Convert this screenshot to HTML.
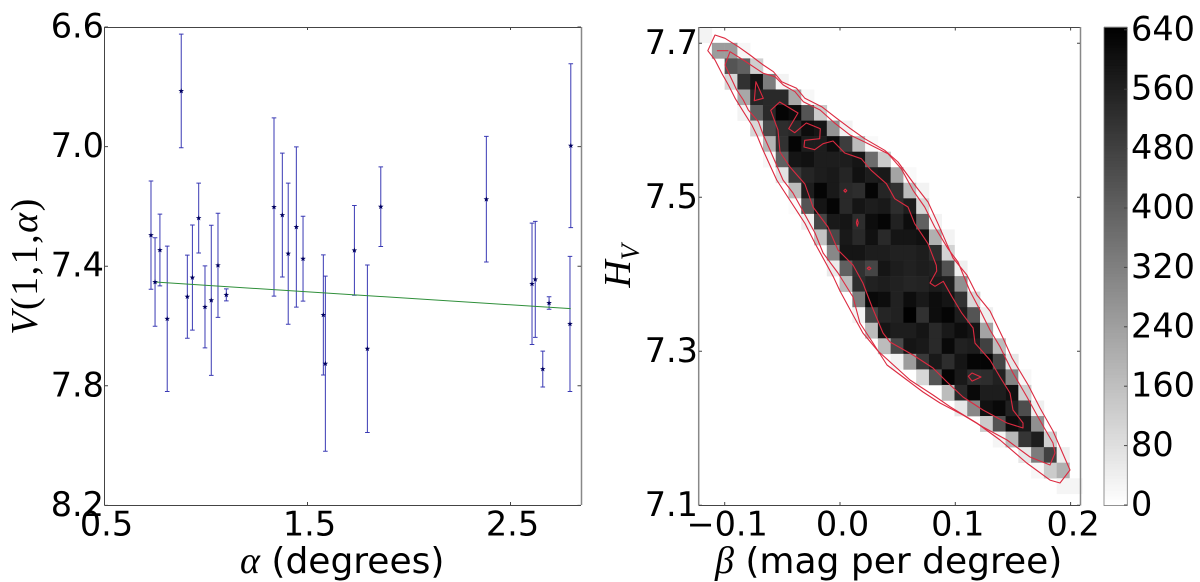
<!DOCTYPE html>
<html>
<head>
<meta charset="utf-8">
<title>Phase curve and parameter density</title>
<style>
html,body{margin:0;padding:0;background:#fff;width:1200px;height:582px;overflow:hidden}
svg{display:block}
text{font-family:"DejaVu Sans","Liberation Sans",sans-serif;fill:#000}
.serif{font-family:"Liberation Serif",serif}
</style>
</head>
<body>
<svg id="figure" width="1200" height="582" viewBox="0 0 1200 582" xmlns="http://www.w3.org/2000/svg">
  <g id="left"></g>
  <g id="right"></g>
  <g id="cbar"></g>
  <text x="240" y="573" font-size="36"><tspan class="serif" font-style="italic" font-size="38">α</tspan> (degrees)</text>
  <text class="serif" transform="translate(37,266) rotate(-90)" text-anchor="middle" font-size="38" letter-spacing="1.5"><tspan font-style="italic">V</tspan>(1,1,<tspan font-style="italic">α</tspan>)</text>
  <text x="715" y="573" font-size="36"><tspan class="serif" font-style="italic" font-size="38">β</tspan> (mag per degree)</text>
  <text class="serif" transform="translate(630,266) rotate(-90)" text-anchor="middle" font-size="38" font-style="italic">H<tspan font-size="26" dy="9">V</tspan></text>
</svg>
<script>
// Left chart data
const alphaDeg = [0.729,0.749,0.773,0.809,0.878,0.908,0.933,0.964,0.995,1.026,1.059,1.100,1.335,1.376,1.405,1.445,1.478,1.578,1.588,1.731,1.795,1.861,2.381,2.606,2.622,2.659,2.690,2.793,2.797];
const reducedMag = [7.296,7.453,7.346,7.576,6.814,7.502,7.438,7.239,7.536,7.514,7.397,7.496,7.202,7.229,7.358,7.269,7.375,7.563,7.726,7.347,7.676,7.201,7.176,7.459,7.444,7.744,7.523,7.593,6.997];
const magError = [0.181,0.148,0.120,0.243,0.190,0.139,0.176,0.117,0.137,0.251,0.174,0.020,0.298,0.207,0.236,0.268,0.142,0.201,0.293,0.150,0.280,0.133,0.210,0.203,0.194,0.060,0.021,0.226,0.274];
const fitAlpha = [0.749,2.797];
const fitMag = [7.453,7.542];
const leftXTicks = [0.5,1.5,2.5];
const leftYTicks = [6.6,7.0,7.4,7.8,8.2];

// Right chart data
const rightXTicks = [-0.1,0.0,0.1,0.2];
const rightYTicks = [7.7,7.5,7.3,7.1];
const colorbarTicks = [0,80,160,240,320,400,480,560,640];
const heatStartCol = [0,1,2,2,3,3,4,5,5,6,7,7,8,9,10,10,11,12,12,13,14,15,17,19,20,22,23,25,26,28];
const heatCounts = [
[30],
[250,250,20],
[430,400,120],
[100,520,590,330,30],
[220,550,540,540,220,20],
[30,400,540,630,610,430,130],
[100,460,530,540,610,590,270,30],
[190,520,630,570,570,610,490,170,15],
[20,400,590,600,570,570,570,590,370,130],
[70,500,550,570,580,550,600,570,580,230,15],
[170,570,630,580,540,530,630,550,520,170,30],
[10,430,590,630,540,590,570,580,530,570,100],
[40,470,580,590,530,610,630,560,610,400,30],
[150,460,580,540,600,540,590,590,600,200,30],
[300,590,590,570,570,560,560,570,530,110],
[50,400,520,470,590,570,560,570,560,440,40],
[170,530,560,570,560,550,555,575,565,280],
[330,620,610,560,610,580,610,590,520,100],
[30,470,550,560,640,520,610,630,570,430,40],
[170,590,570,570,590,540,580,610,590,230],
[170,460,590,580,540,620,560,570,480,170],
[30,250,500,580,530,590,630,630,470,60],
[100,430,630,580,530,530,560,310,20],
[170,540,620,570,570,600,120],
[60,300,600,620,560,450,40],
[130,440,610,580,280],
[25,180,510,570,120],
[60,330,480,40],
[20,130,200],
[25,25]
];
const contourOuter = [[-.1084,7.7108],[-.0997,7.7065],[-.0882,7.6956],[-.0781,7.6848],[-.0665,7.6718],[-.0578,7.6631],[-.0506,7.6501],[-.0376,7.6416],[-.0304,7.6286],[-.0159,7.6177],[-.0029,7.6026],[.0087,7.5896],[.0214,7.5761],[.0388,7.5610],[.0503,7.5458],[.0662,7.5134],[.0763,7.4939],[.0850,7.4657],[.0980,7.4212],[.1101,7.3991],[.1188,7.3731],[.1301,7.3523],[.1414,7.3173],[.1492,7.2913],[.1631,7.2564],[.1735,7.2264],[.1847,7.1965],[.1995,7.1458],[.1908,7.1290],[.1821,7.1327],[.1619,7.1549],[.1388,7.1848],[.1186,7.2069],[.0954,7.2281],[.0807,7.2432],[.0607,7.2627],[.0330,7.3004],[.0199,7.3238],[.0113,7.3471],[0,7.3783],[-.0058,7.3969],[-.0217,7.4403],[-.0304,7.4662],[-.0549,7.5225],[-.0668,7.5614],[-.0722,7.5809],[-.0765,7.5939],[-.0838,7.6112],[-.0910,7.6286],[-.0968,7.6458],[-.1025,7.6610],[-.1084,7.6783],[-.1147,7.6904]];
const contourMiddle = [[-.0954,7.6891],[-.0839,7.6783],[-.0665,7.6610],[-.0564,7.6566],[-.0492,7.6458],[-.0390,7.6371],[-.0318,7.6242],[-.0173,7.6134],[-.0043,7.5961],[.0087,7.5809],[.0214,7.5718],[.0416,7.5566],[.0532,7.5371],[.0633,7.5091],[.0735,7.4874],[.0821,7.4614],[.0937,7.4332],[.1023,7.4160],[.1127,7.3783],[.1214,7.3536],[.1301,7.3277],[.1388,7.3060],[.1500,7.2718],[.1622,7.2406],[.1717,7.2147],[.1847,7.1809],[.1865,7.1679],[.1821,7.1523],[.1648,7.1627],[.1448,7.1848],[.1240,7.2017],[.1067,7.2173],[.0867,7.2329],[.0720,7.2471],[.0581,7.2627],[.0408,7.2822],[.0286,7.3108],[.0173,7.3368],[.0113,7.3705],[-.0017,7.4017],[-.0147,7.4277],[-.0217,7.4536],[-.0408,7.5056],[-.0494,7.5225],[-.0607,7.5614],[-.0665,7.5809],[-.0708,7.5982],[-.0795,7.6134],[-.0839,7.6264],[-.0896,7.6394],[-.0997,7.6718]];
const contourInner = [[-.0601,7.6130],[-.0523,7.6238],[-.0364,7.6095],[-.0445,7.5891],[-.0393,7.5839],[-.0292,7.5965],[-.0171,7.5891],[-.0176,7.5761],[-.0306,7.5740],[-.0312,7.5653],[-.0219,7.5618],[-.0147,7.5696],[-.0061,7.5731],[.0041,7.5575],[.0185,7.5501],[.0271,7.5351],[.0402,7.5177],[.0474,7.4982],[.0590,7.4874],[.0648,7.4657],[.0763,7.4397],[.0835,7.4117],[.0839,7.4043],[.0781,7.3887],[.0824,7.3844],[.0896,7.3909],[.0969,7.3714],[.1056,7.3496],[.1154,7.3303],[.1171,7.3106],[.1301,7.2887],[.1388,7.2666],[.1474,7.2458],[.1500,7.2238],[.1587,7.2069],[.1587,7.2004],[.1448,7.2069],[.1240,7.2238],[.1067,7.2406],[.0928,7.2601],[.0807,7.2783],[.0633,7.2952],[.0434,7.3121],[.0373,7.3238],[.0278,7.3575],[.0199,7.3887],[.0113,7.4121],[-.0017,7.4316],[-.0104,7.4614],[-.0234,7.4874],[-.0304,7.5173],[-.0434,7.5394],[-.0520,7.5588],[-.0538,7.5874]];
const contourDash = [[-.1068,7.6904],[-.0968,7.6904]];
const contourTriangle = [[-.0729,7.6501],[-.0665,7.6286],[-.0743,7.6255]];
const contourIslandA = [[.0033,7.5086],[.0046,7.5106],[.0059,7.5086],[.0046,7.5066]];
const contourIslandB = [[.0142,7.4670],[.0150,7.4715],[.0158,7.4670],[.0150,7.4625]];
const contourIslandC = [[.0236,7.4078],[.0252,7.4098],[.0268,7.4078],[.0252,7.4058]];
const contourIslandD = [[.1113,7.2675],[.1145,7.2718],[.1223,7.2666],[.1145,7.2613]];

const NS = 'http://www.w3.org/2000/svg';
function make(parent, tag, props) {
  const n = document.createElementNS(NS, tag);
  for (const k in props) n.setAttribute(k, props[k]);
  parent.appendChild(n);
  return n;
}

// Axis functions
const leftX = a => 104.5 + (a - 0.5) * 203;
const leftY = v => 27 + (v - 6.6) * 299;
const rightX = b => 840 + b * 1153;
const rightY = h => 197.3 + (7.5 - h) * 770;
const cbarY = c => 505 - c * 0.7425;
const heatGray = c => { const g = Math.round(255 * (1 - c / 643)); return 'rgb(' + g + ',' + g + ',' + g + ')'; };

const leftG = document.getElementById('left');
const rightG = document.getElementById('right');
const cbarG = document.getElementById('cbar');

function starPath(cx, cy, R) {
  let d = '';
  for (let i = 0; i < 10; i++) {
    const r = i % 2 ? R * 0.42 : R;
    const t = -Math.PI / 2 + i * Math.PI / 5;
    d += (i ? 'L' : 'M') + (cx + r * Math.cos(t)).toFixed(2) + ' ' + (cy + r * Math.sin(t)).toFixed(2);
  }
  return d + 'Z';
}

// ---- Left chart ----
alphaDeg.forEach((a, i) => {
  const x = leftX(a);
  const top = leftY(reducedMag[i] - magError[i]);
  const bot = leftY(reducedMag[i] + magError[i]);
  const bar = make(leftG, 'path', {d: 'M' + x + ' ' + top + 'V' + bot + 'M' + (x - 2.3) + ' ' + top + 'H' + (x + 2.3) + 'M' + (x - 2.3) + ' ' + bot + 'H' + (x + 2.3), stroke: '#3a3ab4', 'stroke-width': 1, fill: 'none'});
  
  
});
const fit = make(leftG, 'line', {x1: leftX(fitAlpha[0]), y1: leftY(fitMag[0]), x2: leftX(fitAlpha[1]), y2: leftY(fitMag[1]), stroke: '#2f8f3a', 'stroke-width': 1});


alphaDeg.forEach((a, i) => {
  const star = make(leftG, 'path', {d: starPath(leftX(a), leftY(reducedMag[i]), 2.9), fill: '#000060'});
  
  
});
const leftFrame = make(leftG, 'path', {d: 'M104.5 505.5V27.5H581', fill: 'none', stroke: '#444', 'stroke-width': 1});


const leftFrameB = make(leftG, 'path', {d: 'M104.5 505.5H581', fill: 'none', stroke: '#444', 'stroke-width': 1});


const leftFrameR = make(leftG, 'path', {d: 'M581.5 27V505', fill: 'none', stroke: '#888', 'stroke-width': 1.5});


leftXTicks.forEach(t => {
  const x = leftX(t);
  const mark = make(leftG, 'path', {d: 'M' + x + ' 505V502M' + x + ' 27V30', stroke: '#444', 'stroke-width': 1});
  
  
  const label = make(leftG, 'text', {x: x + 2, y: 535.5, 'font-size': 33.5, 'text-anchor': 'middle'});
  label.textContent = t.toFixed(1);
  
  
});
leftYTicks.forEach(t => {
  const y = leftY(t);
  const mark = make(leftG, 'path', {d: 'M104.5 ' + y + 'H108M581 ' + y + 'H577.5', stroke: '#444', 'stroke-width': 1});
  
  
  const label = make(leftG, 'text', {x: 104, y: y + 10.5, 'font-size': 33.5, 'text-anchor': 'end'});
  label.textContent = t.toFixed(1);
  
  
});

// ---- Right chart ----
const betaStep = 0.011075;
const hvTop = 7.7208;
const hvStep = 0.020195;
heatCounts.forEach((row, r) => {
  row.forEach((count, j) => {
    const b0 = -0.1222 + (heatStartCol[r] + j) * betaStep;
    const h0 = hvTop - r * hvStep;
    const cell = make(rightG, 'rect', {x: rightX(b0), y: rightY(h0), width: rightX(b0 + betaStep) - rightX(b0) + 0.3, height: rightY(h0 - hvStep) - rightY(h0) + 0.3, fill: heatGray(count)});
    
    
  });
});
function drawContour(points, name, closed) {
  const pts = points.map(p => rightX(p[0]).toFixed(1) + ',' + rightY(p[1]).toFixed(1)).join(' ');
  const c = make(rightG, closed ? 'polygon' : 'polyline', {points: pts, fill: 'none', stroke: '#dc2a40', 'stroke-width': 1.1, 'stroke-linejoin': 'round'});
  
  
}
drawContour(contourOuter, 'contour-outer', true);
drawContour(contourMiddle, 'contour-middle', true);
drawContour(contourInner, 'contour-inner', true);
drawContour(contourDash, 'contour-top-dash', false);
drawContour(contourTriangle, 'contour-triangle', true);
drawContour(contourIslandA, 'contour-island', true);
drawContour(contourIslandB, 'contour-island', true);
drawContour(contourIslandC, 'contour-island', true);
drawContour(contourIslandD, 'contour-island', true);

const rFrame = make(rightG, 'path', {d: 'M698.7 27.5H1080M698.7 505.5H1080', fill: 'none', stroke: '#444', 'stroke-width': 1});


const rFrameS = make(rightG, 'path', {d: 'M698.7 27V505.5M1080.5 27V505.5', fill: 'none', stroke: '#888', 'stroke-width': 1.5});


rightXTicks.forEach(t => {
  const x = rightX(t);
  const mark = make(rightG, 'path', {d: 'M' + x + ' 505V502M' + x + ' 27.5V30.5', stroke: '#444', 'stroke-width': 1});
  
  
  const label = make(rightG, 'text', {x: x + 2.5, y: 535.5, 'font-size': 33.5, 'text-anchor': 'middle'});
  label.textContent = (t < 0 ? '\u2212' : '') + Math.abs(t).toFixed(1);
  
  
});
rightYTicks.forEach(t => {
  const y = rightY(t);
  const mark = make(rightG, 'path', {d: 'M699 ' + y + 'H702M1080 ' + y + 'H1077', stroke: '#444', 'stroke-width': 1});
  
  
  const label = make(rightG, 'text', {x: 698, y: y + 10.5, 'font-size': 33.5, 'text-anchor': 'end'});
  label.textContent = t.toFixed(1);
  
  
});

// ---- Colorbar ----
for (let c = 0; c < 643; c += 4) {
  const band = make(cbarG, 'rect', {x: 1104, y: cbarY(c + 4), width: 23.3, height: cbarY(c) - cbarY(c + 4) + 0.4, fill: heatGray(c + 2)});
  
  
}
const cbFrame = make(cbarG, 'rect', {x: 1104, y: 27.5, width: 23.3, height: 478, fill: 'none', stroke: '#777', 'stroke-width': 0.8});


colorbarTicks.forEach(t => {
  const y = cbarY(t);
  const mark = make(cbarG, 'line', {x1: 1124, x2: 1127.3, y1: y, y2: y, stroke: '#444', 'stroke-width': 1});
  
  
  const label = make(cbarG, 'text', {x: 1131, y: y + 10.5, 'font-size': 33.5});
  label.textContent = String(t);
  
  
});
</script>
</body>
</html>
